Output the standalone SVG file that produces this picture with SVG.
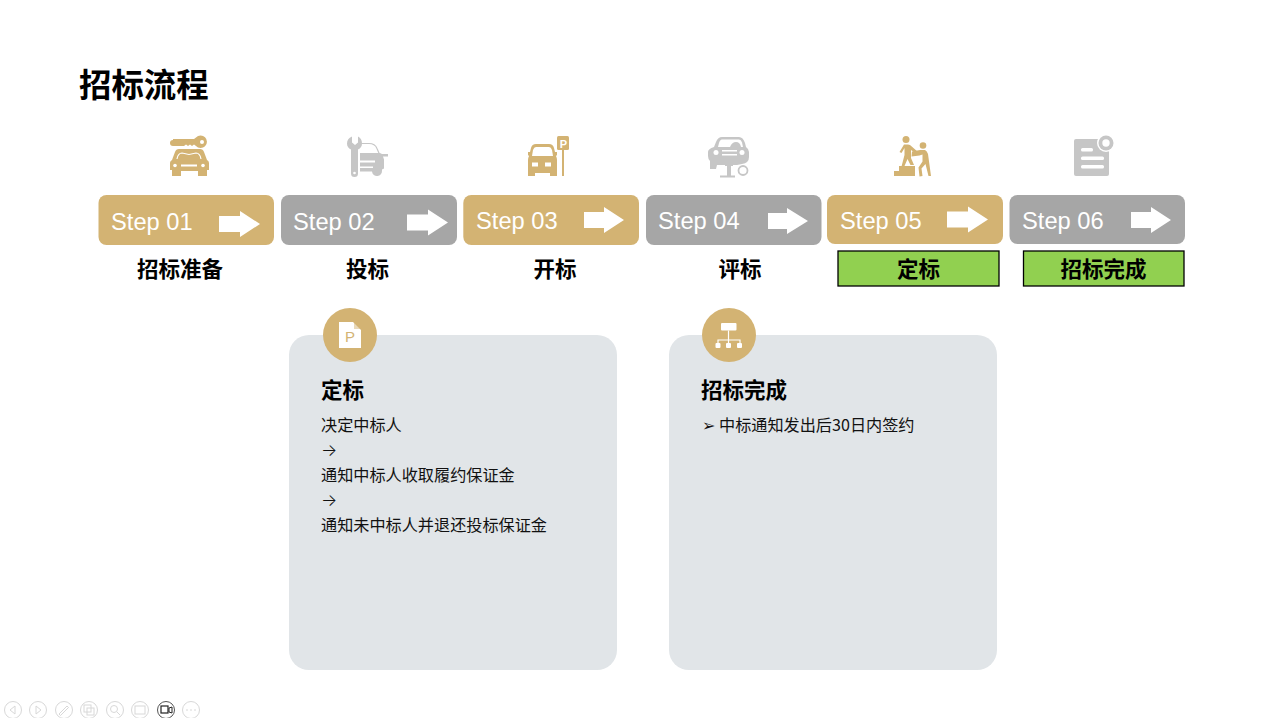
<svg xmlns="http://www.w3.org/2000/svg" width="1280" height="718" viewBox="0 0 1280 718">
<style>
text{font-family:"Liberation Sans","Noto Sans CJK SC",sans-serif}
.cjk{font-family:"Noto Sans CJK SC",sans-serif}
.gold{fill:#D3B373}.gray{fill:#A6A6A6}.lg{fill:#C6C6C6}
.step{fill:#fff;font-size:23.700px}
.lab{font-size:21.500px;font-weight:700;fill:#000;text-anchor:middle}
.head{font-size:21.500px;font-weight:700;fill:#000}
.body{font-size:16.150px;fill:#111}
.arr{font-family:Inter,sans-serif;font-size:17px;font-weight:300;fill:#111}
.card{fill:#E1E5E8}
.go{fill:#91D050;stroke:#000;stroke-width:1.300}
.wa{fill:#fff}
.tb circle,.tb path,.tb rect{fill:none;stroke:#D8D8D8;stroke-width:1}
</style>
<rect width="1280" height="718" fill="#fff"/>
<text class="cjk" x="79" y="97" font-size="32.400" font-weight="700" fill="#000">招标流程</text>

<g id="step1">
<path class="gold" d="M173 139h21l2-1.500a6.300 6.300 0 1 1 0 8.500l-2-1.500-2 1.500-2-1.500-2 1.500-2-1.500-2 1.500h-11a3 3 0 0 1 0-6z"/>
<circle cx="202" cy="142" r="2" fill="#fff"/>
<path class="gold" d="M179 149h21q3 0 4 3l3 8q2 1 2 3v7h-2v6h-9v-5h-17v5h-9v-6h-2v-7q0-2 2-3l3-8q1-3 4-3z"/>
<path d="M177 159q1-6 5-6l7 1.500 7-1.500q4 0 5 6" fill="none" stroke="#fff" stroke-width="1.200"/>
<rect x="181" y="164.500" width="16" height="2" fill="#fff"/>
<circle cx="175" cy="165.500" r="1.800" fill="#fff"/><circle cx="203" cy="165.500" r="1.800" fill="#fff"/>
<rect class="gold" x="98.500" y="195" width="175.500" height="50" rx="8"/>
<text class="step" x="111" y="230">Step 01</text>
<path class="wa" d="M219 216h21v-5l20 13-20 13v-5h-21z"/>
<text class="lab cjk" x="180" y="277">招标准备</text>
</g>

<g id="step2">
<path class="lg" d="M352 136.500v6l3 2.500 3-2.500v-6q4 2 4 7 0 4-4 6v24a3.500 3.500 0 0 1-7 0v-24q-4-2-4-6 0-5 5-7z"/>
<circle cx="354.500" cy="173" r="1.300" fill="#fff"/>
<path d="M360 143.500h9q6 0 8 5l3 7" fill="none" stroke="#C6C6C6" stroke-width="1.200"/>
<path class="lg" d="M360 153h20l2 1h6v2.500h-5l1 3v9l-2 1v1a5 5 0 0 1-10 1h-12z"/>
<rect x="360" y="160.500" width="15" height="2" fill="#fff"/><rect x="360" y="166.500" width="13" height="1.500" fill="#fff"/>
<rect class="gray" x="281" y="195" width="176" height="50" rx="8"/>
<text class="step" x="293" y="230">Step 02</text>
<path class="wa" d="M407 214.500h21v-5l20 13-20 13v-5h-21z"/>
<text class="lab cjk" x="367.500" y="277">投标</text>
</g>

<g id="step3">
<path class="gold" d="M536 144h13q4 0 5 4l1 4 2 0v3l-1 1q1 2 1 4v16h-7v-3h-15v3h-7v-16q0-2 1-4l-1-1v-3l2 0 1-4q1-4 5-4z"/>
<path d="M536 147h13q2 0 3 3l1 6h-21l1-6q1-3 3-3z" fill="#fff"/>
<rect x="532" y="162.500" width="6" height="4" fill="#fff"/><rect x="545" y="162.500" width="6" height="4" fill="#fff"/>
<rect class="gold" x="557" y="136" width="12" height="14" rx="1.500"/>
<rect class="gold" x="562" y="150" width="2" height="26"/>
<text x="559.800" y="147.500" font-size="11" font-weight="700" fill="#fff">P</text>
<rect class="gold" x="463.300" y="195" width="175.700" height="50" rx="8"/>
<text class="step" x="476" y="229">Step 03</text>
<path class="wa" d="M584 212h20v-5l20 13-20 13v-5h-20z"/>
<text class="lab cjk" x="555" y="277">开标</text>
</g>

<g id="step4">
<path class="lg" d="M722 137h17q4 0 6 6l1 4q3 2 3 5v5q0 6-7 7l-5 1h-20l-1 4h-6v-8q-2-2-2-5v-4q0-3 6-5l2-5q2-5 6-5z"/>
<path d="M722 139.500h17q2 0 3 3l1 4.500h-25l1-4q1-3.500 3-3.500z" fill="#fff"/>
<path d="M730 147q2-5 6-5t5 5z" fill="#C6C6C6"/>
<circle cx="716" cy="152.500" r="2.500" fill="#fff"/><circle cx="742" cy="152.500" r="2.500" fill="#fff"/>
<rect x="722" y="150" width="15" height="1.500" fill="#fff"/><rect x="722" y="154" width="15" height="1.500" fill="#fff"/>
<rect class="lg" x="727" y="165" width="4" height="12"/><rect class="lg" x="725" y="163" width="8" height="3"/><rect class="lg" x="720" y="175.500" width="15" height="2"/>
<circle cx="743" cy="170.500" r="4.500" fill="none" stroke="#C6C6C6" stroke-width="1.800"/>
<rect class="gray" x="646" y="195" width="175.500" height="50" rx="8"/>
<text class="step" x="658" y="229">Step 04</text>
<path class="wa" d="M768 213h19v-5l21 13-21 13v-5h-19z"/>
<text class="lab cjk" x="740" y="277">评标</text>
</g>

<g id="step5">
<circle class="gold" cx="906" cy="139.500" r="3.500"/><circle class="gold" cx="923" cy="145.500" r="3.300"/>
<path class="gold" d="M904 144.500h4l2 .5 8 7-2 1.500-5-3.500 0 8 3 7h-3.500l-3-6-3 7-3 .5 3-11.500v-7l-3 5-2-1z"/>
<path class="gold" d="M912 151.500l8-1.500h5q2 1 3 4l3 22h-2.500l-3-12-4 4.500 1 7.500-3 .5-1-9 4-6v-7l-3 1-8 1z"/>
<path class="gold" d="M899 166h12l4 0v10h-21v-5h5z"/>
<rect class="gold" x="827" y="195" width="176" height="49" rx="8"/>
<text class="step" x="840" y="229">Step 05</text>
<path class="wa" d="M947 211.500h21v-5l20 13-20 13v-5h-21z"/>
<rect class="go" x="838" y="251" width="161" height="35"/>
<text class="lab cjk" x="918.500" y="277">定标</text>
</g>

<g id="step6">
<rect class="lg" x="1074" y="139" width="35" height="37" rx="2"/>
<circle cx="1106" cy="143" r="9" fill="#fff"/>
<circle class="lg" cx="1106" cy="143" r="7.500"/>
<circle cx="1106" cy="143" r="3.700" fill="#fff"/>
<rect x="1081" y="148" width="12" height="3.500" rx="1.500" fill="#fff"/>
<rect x="1081" y="156.500" width="23" height="3.500" rx="1.500" fill="#fff"/>
<rect x="1081" y="165" width="23" height="3.500" rx="1.500" fill="#fff"/>
<rect class="gray" x="1009.500" y="195" width="175.500" height="49" rx="8"/>
<text class="step" x="1022" y="229">Step 06</text>
<path class="wa" d="M1131 212h20v-5l20 13-20 13v-5h-20z"/>
<rect class="go" x="1023.500" y="251" width="160.500" height="35"/>
<text class="lab cjk" x="1103.500" y="277">招标完成</text>
</g>

<g id="card1">
<rect class="card" x="289" y="335" width="328" height="335" rx="20"/>
<circle class="gold" cx="350" cy="335" r="27"/>
<path fill="#fff" d="M339 322h14l8 8v18h-22z"/>
<path fill="#D3B373" d="M354 322l7 7h-7z" opacity=".5"/>
<text x="345" y="342" font-size="15" fill="#D3B373">P</text>
<text class="head cjk" x="321" y="398">定标</text>
<text class="body cjk" x="321" y="431">决定中标人</text>
<text class="arr" x="321" y="456">→</text>
<text class="body cjk" x="321" y="481">通知中标人收取履约保证金</text>
<text class="arr" x="321" y="506">→</text>
<text class="body cjk" x="321" y="531">通知未中标人并退还投标保证金</text>
</g>

<g id="card2">
<rect class="card" x="669" y="335" width="328" height="335" rx="20"/>
<circle class="gold" cx="729" cy="335" r="27"/>
<rect x="721" y="323" width="15.500" height="7.500" rx="1" fill="#fff"/>
<path d="M728.500 330.500v13M718 344v-4h22v4" fill="none" stroke="#fff" stroke-width="1.200"/>
<rect x="715.500" y="343" width="5" height="5" rx="1" fill="#fff"/><rect x="726" y="343" width="5" height="5" rx="1" fill="#fff"/><rect x="737" y="343" width="5" height="5" rx="1" fill="#fff"/>
<text class="head cjk" x="701" y="398">招标完成</text>
<text x="702" y="431" font-size="16" fill="#111" style="font-family:'DejaVu Sans',sans-serif">➢</text>
<text class="body cjk" x="719" y="431">中标通知发出后30日内签约</text>
</g>

<g id="toolbar" class="tb">
<circle cx="13" cy="710" r="8.500"/><path d="M15 706l-5 4 5 4z"/>
<circle cx="38" cy="710" r="8.500"/><path d="M36 706l5 4-5 4z"/>
<circle cx="64" cy="710" r="8.500"/><path d="M59 714l8-8 1.500 1.500-8 8z"/>
<circle cx="89" cy="710" r="8.500"/><rect x="84" y="705" width="7" height="7"/><rect x="87" y="708" width="7" height="7"/>
<circle cx="115" cy="710" r="8.500"/><circle cx="114" cy="709" r="3.500"/><path d="M117 712l3 3"/>
<circle cx="140" cy="710" r="8.500"/><rect x="135" y="706" width="10" height="8"/>
<circle cx="166" cy="710" r="8.500" style="stroke:#555"/><rect x="161" y="706" width="7" height="7" style="stroke:#222;stroke-width:1.200"/><path d="M169 708l3-1v6l-3-1z" style="stroke:#222"/>
<circle cx="191" cy="710" r="8.500"/><path d="M186 710h2M190 710h2M194 710h2"/>
</g>
</svg>
